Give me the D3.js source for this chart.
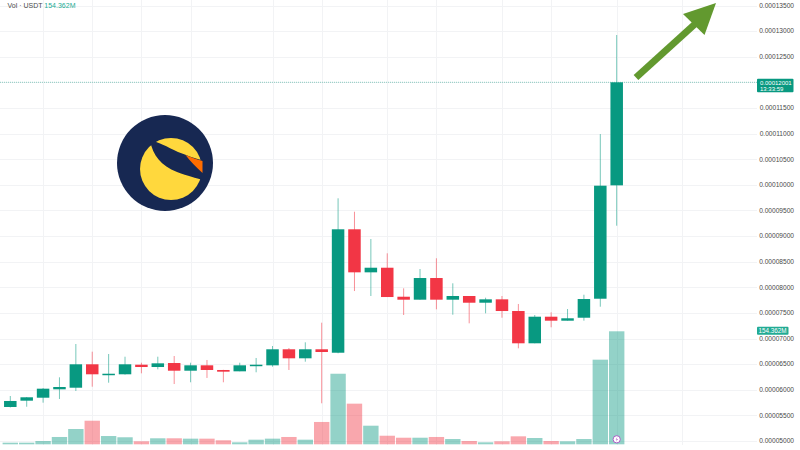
<!DOCTYPE html>
<html>
<head>
<meta charset="utf-8">
<script src="https://cdn.jsdelivr.net/npm/d3@7/dist/d3.min.js"></script>
<style>
  html, body { margin: 0; padding: 0; background: #ffffff; }
  svg { display: block; font-family: "Liberation Sans", Arial, sans-serif; }
</style>
</head>
<body>
<svg id="chart" width="800" height="450"></svg>
<script>
// ---- data (prices in USDT, volumes in millions) ----
const opens  = [0.00005664,0.00005787,0.00005845,0.00006009,0.00006040,0.00006497,0.00006294,0.00006302,0.00006489,0.00006444,
                0.00006522,0.00006372,0.00006477,0.00006386,0.00006360,0.00006477,0.00006477,0.00006790,0.00006614,0.00006790,
                0.00006723,0.00009132,0.00008292,0.00008382,0.00007816,0.00007758,0.00008181,0.00007758,0.00007830,0.00007699,
                0.00007765,0.00007537,0.00006907,0.00007426,0.00007348,0.00007406,0.00007777,0.00009990];
const closes = [0.00005781,0.00005853,0.00006021,0.00006054,0.00006497,0.00006302,0.00006313,0.00006497,0.00006444,0.00006516,
                0.00006372,0.00006477,0.00006386,0.00006353,0.00006477,0.00006489,0.00006790,0.00006614,0.00006790,0.00006737,
                0.00009132,0.00008292,0.00008382,0.00007810,0.00007758,0.00008181,0.00007758,0.00007830,0.00007699,0.00007765,
                0.00007537,0.00006907,0.00007426,0.00007348,0.00007395,0.00007771,0.00009983,0.00012001];
const highs  = [0.00005878,0.00005859,0.00006034,0.00006243,0.00006893,0.00006743,0.00006698,0.00006645,0.00006528,0.00006645,
                0.00006659,0.00006528,0.00006581,0.00006390,0.00006528,0.00006620,0.00006854,0.00006815,0.00006926,0.00007309,
                0.00009737,0.00009475,0.00008942,0.00008663,0.00007980,0.00008357,0.00008566,0.00008078,0.00007830,0.00007797,
                0.00007830,0.00007674,0.00007459,0.00007512,0.00007576,0.00007855,0.00010991,0.00012924];
const lows   = [0.00005654,0.00005669,0.00005748,0.00005820,0.00005976,0.00006060,0.00006138,0.00006295,0.00006321,0.00006399,
                0.00006112,0.00006146,0.00006230,0.00006146,0.00006360,0.00006341,0.00006450,0.00006386,0.00006548,0.00005736,
                0.00006712,0.00007927,0.00007830,0.00007810,0.00007459,0.00007758,0.00007570,0.00007465,0.00007297,0.00007492,
                0.00007406,0.00006809,0.00006907,0.00007219,0.00007348,0.00007348,0.00007621,0.00009202];
const volumes = [2.2,2.2,4.5,10.0,20.9,32.2,11.3,9.6,4.1,8.2,
                 8.2,7.7,7.7,5.5,2.7,6.3,7.7,10.0,6.3,30.5,
                 96.4,55.5,25.4,11.7,9.0,9.0,10.0,7.2,4.5,2.7,
                 4.1,10.9,8.6,4.5,4.1,7.2,115.6,154.362];

const priceTicks = [0.000050,0.000055,0.000060,0.000065,0.000070,0.000075,0.000080,0.000085,0.000090,
                    0.000095,0.000100,0.000105,0.000110,0.000115,0.000120,0.000125,0.000130,0.000135];
const timeTickIdx = [2,5,8,11,16,19,23,26,30,33,37,41];
const timeTickLabels = ["13","16","19","22","27","30","3","6","10","13","17","21"];
const lastPrice = 0.00012001;
const lastVolume = 154.362;
const countdown = "13:33:59";

// ---- colours ----
const UP = "#089981", DOWN = "#f23645";
const UP_VOL = "rgba(8,153,129,0.44)", DOWN_VOL = "rgba(242,54,69,0.44)";

const svg = d3.select("#chart");

// ---- scales ----
const x = d3.scaleLinear().domain([0, 37]).range([10.3, 616.7]);
const step = x(1) - x(0);
const y = d3.scaleLinear().domain([0.00005, 0.000135]).range([441, 5.5]);
const yv = d3.scaleLinear().domain([0, lastVolume]).range([444.3, 331.3]);

// ---- grid ----
const grid = svg.append("g");
grid.selectAll("line.h").data(priceTicks).join("line")
  .attr("x1", 0).attr("x2", 757)
  .attr("y1", d => Math.round(y(d)) + 0.5).attr("y2", d => Math.round(y(d)) + 0.5)
  .attr("stroke", "#f2f3f5").attr("stroke-width", 1);
grid.selectAll("line.v").data(timeTickIdx).join("line")
  .attr("x1", d => Math.round(x(d)) + 0.5).attr("x2", d => Math.round(x(d)) + 0.5)
  .attr("y1", 0).attr("y2", 445)
  .attr("stroke", "#f2f3f5").attr("stroke-width", 1);

// ---- logo ----
const logo = svg.append("g");
logo.append("circle").attr("cx", 165).attr("cy", 163).attr("r", 48).attr("fill", "#172852");
logo.append("circle").attr("cx", 171).attr("cy", 169).attr("r", 31).attr("fill", "#ffd83d");
logo.append("path")
  .attr("d", "M150,141 C153,155 161,166 177,172 C188,176 196,178 203,180 L203,160.5 C195,158.5 186,155 178,152 C167,147 158,141 150,141 Z")
  .attr("fill", "#172852");
logo.append("path")
  .attr("d", "M185.5,155 C192,157.5 197,159.5 202.5,161 L202.5,173 C196,167 190,161 185.5,155 Z")
  .attr("fill", "#ff6d00");

// ---- volume bars ----
const volW = step - 1;
svg.append("g").selectAll("rect").data(volumes).join("rect")
  .attr("x", (d, i) => x(i) - volW / 2)
  .attr("width", volW)
  .attr("y", d => yv(d))
  .attr("height", d => yv(0) - yv(d))
  .attr("fill", (d, i) => closes[i] >= opens[i] ? UP_VOL : DOWN_VOL);

// ---- candles ----
const bodyW = 12.5;
const candles = svg.append("g").selectAll("g").data(opens).join("g");
candles.append("line")
  .attr("x1", (d, i) => x(i)).attr("x2", (d, i) => x(i))
  .attr("y1", (d, i) => y(highs[i])).attr("y2", (d, i) => y(lows[i]))
  .attr("stroke", (d, i) => closes[i] >= opens[i] ? UP : DOWN)
  .attr("stroke-opacity", 0.55)
  .attr("stroke-width", 1);
candles.append("rect")
  .attr("x", (d, i) => x(i) - bodyW / 2)
  .attr("width", bodyW)
  .attr("y", (d, i) => y(Math.max(opens[i], closes[i])))
  .attr("height", (d, i) => Math.max(1.5, Math.abs(y(opens[i]) - y(closes[i]))))
  .attr("fill", (d, i) => closes[i] >= opens[i] ? UP : DOWN);

// ---- last price line ----
svg.append("line")
  .attr("x1", 0).attr("x2", 757)
  .attr("y1", y(lastPrice)).attr("y2", y(lastPrice))
  .attr("stroke", UP).attr("stroke-opacity", 0.45)
  .attr("stroke-dasharray", "1,1").attr("stroke-width", 1);

// ---- arrow ----
svg.append("line")
  .attr("x1", 636).attr("y1", 77.5).attr("x2", 695).attr("y2", 24)
  .attr("stroke", "#62992f").attr("stroke-width", 7);
svg.append("path")
  .attr("d", "M716,3 L683,14 L704.5,35 Z")
  .attr("fill", "#62992f");

// ---- right price axis labels (the one under the last-price tag is hidden) ----
svg.append("g").selectAll("text")
  .data(priceTicks.filter(d => Math.abs(y(d) - y(lastPrice)) > 8))
  .join("text")
  .attr("x", 794).attr("y", d => y(d))
  .attr("dy", "0.35em")
  .attr("text-anchor", "end")
  .attr("font-size", 6.6)
  .attr("fill", "#4a4a4a")
  .text(d => d.toFixed(8));

// last price tag
const tagY = y(lastPrice);
svg.append("rect").attr("x", 757).attr("y", tagY - 3.5).attr("width", 36.5).attr("height", 13.5)
  .attr("fill", UP).attr("rx", 1);
svg.append("text").attr("x", 760).attr("y", tagY + 2.3)
  .attr("font-size", 6).attr("fill", "#ffffff").text(lastPrice.toFixed(8));
svg.append("text").attr("x", 760).attr("y", tagY + 8.6)
  .attr("font-size", 6).attr("fill", "#ffffff").text(countdown);

// volume tag
const vTagY = yv(lastVolume);
svg.append("rect").attr("x", 757).attr("y", vTagY - 4.5).attr("width", 31.5).attr("height", 8)
  .attr("fill", "#22ab94").attr("rx", 1);
svg.append("text").attr("x", 772.5).attr("y", vTagY + 2)
  .attr("text-anchor", "middle")
  .attr("font-size", 6.3).attr("fill", "#ffffff").text(lastVolume.toFixed(3) + "M");

// ---- time axis labels (cut by the bottom edge, as in the reference) ----
svg.append("g").selectAll("text").data(timeTickIdx).join("text")
  .attr("x", d => x(d)).attr("y", 455)
  .attr("text-anchor", "middle")
  .attr("font-size", 7)
  .attr("fill", "#4a4a4a")
  .text((d, i) => timeTickLabels[i]);

// ---- event marker ----
const ex = x(37);
svg.append("circle").attr("cx", ex).attr("cy", 439.3).attr("r", 3.6)
  .attr("fill", "#ffffff").attr("stroke", "#a64fc2").attr("stroke-width", 0.9);
svg.append("path")
  .attr("d", `M${ex+0.8},436.8 L${ex-1},439.6 L${ex+0.3},439.6 L${ex-0.8},442 L${ex+1.2},439 L${ex-0.1},439 Z`)
  .attr("fill", "#a64fc2");

// ---- top-left legend ----
const legend = svg.append("text").attr("x", 7.5).attr("y", 7.5).attr("font-size", 7);
legend.append("tspan").attr("fill", "#4a4a4a").text("Vol · USDT ");
legend.append("tspan").attr("fill", "#22ab94").text(lastVolume.toFixed(3) + "M");
</script>
</body>
</html>
